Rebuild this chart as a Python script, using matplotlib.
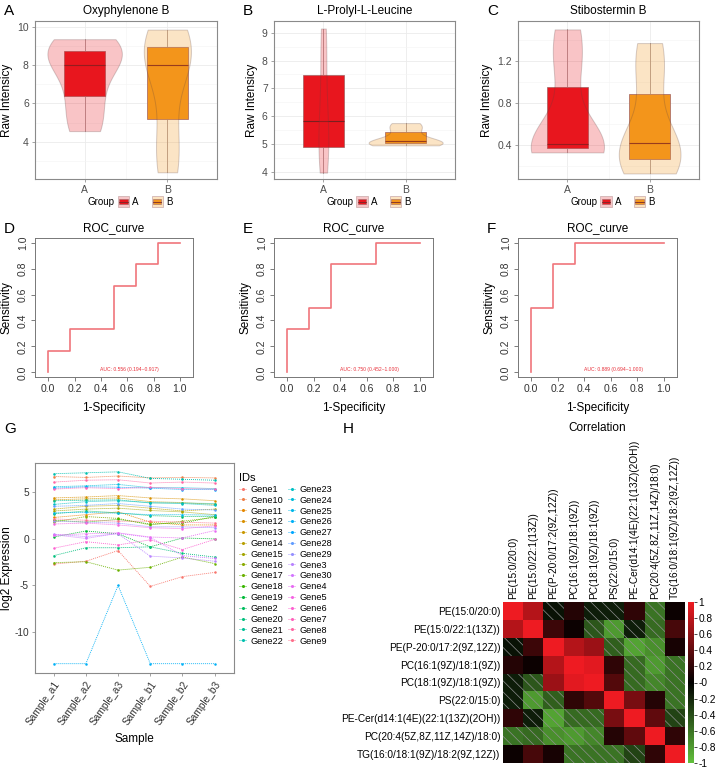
import numpy as np
import matplotlib
matplotlib.use('Agg')
import matplotlib.pyplot as plt
from matplotlib.patches import Rectangle
from matplotlib.lines import Line2D
from matplotlib.legend_handler import HandlerBase
from matplotlib.colors import LinearSegmentedColormap
import matplotlib.ticker as mticker

plt.rcParams['font.family'] = ['Liberation Sans', 'DejaVu Sans']
plt.rcParams['axes.unicode_minus'] = False
plt.rcParams['hatch.linewidth'] = 0.5

# ------------------------------------------------------------------ data
groups = ['A', 'B']
metab_titles = ['Oxyphylenone B', 'L-Prolyl-L-Leucine', 'Stibostermin B']
oxy_A = [4.55, 6.0, 7.5, 8.5, 8.8, 9.35]
oxy_B = [2.4, 4.4, 7.6, 8.4, 9.13, 9.85]
pro_A = [3.97, 4.73, 5.4, 6.26, 7.89, 9.15]
pro_B = [4.95, 5.01, 5.05, 5.15, 5.51, 5.75]
sti_A = [0.33, 0.363, 0.39, 0.43, 1.12, 1.50]
sti_B = [0.13, 0.233, 0.38, 0.46, 1.03, 1.37]

roc_fpr_D = [0, 0, 1/6, 1/6, 3/6, 3/6, 4/6, 4/6, 5/6, 5/6, 1]
roc_tpr_D = [0, 1/6, 1/6, 2/6, 2/6, 4/6, 4/6, 5/6, 5/6, 1, 1]
roc_fpr_E = [0, 0, 1/6, 1/6, 2/6, 2/6, 4/6, 4/6, 1]
roc_tpr_E = [0, 2/6, 2/6, 3/6, 3/6, 5/6, 5/6, 1, 1]
roc_fpr_F = [0, 0, 1/6, 1/6, 2/6, 2/6, 1]
roc_tpr_F = [0, 3/6, 3/6, 5/6, 5/6, 1, 1]
auc_labels = ['AUC: 0.556 (0.194~0.917)', 'AUC: 0.750 (0.452~1.000)', 'AUC: 0.889 (0.694~1.000)']

samples = ['Sample_a1', 'Sample_a2', 'Sample_a3', 'Sample_b1', 'Sample_b2', 'Sample_b3']
gene_ids = ['Gene1', 'Gene10', 'Gene11', 'Gene12', 'Gene13', 'Gene14', 'Gene15', 'Gene16',
            'Gene17', 'Gene18', 'Gene19', 'Gene2', 'Gene20', 'Gene21', 'Gene22', 'Gene23',
            'Gene24', 'Gene25', 'Gene26', 'Gene27', 'Gene28', 'Gene29', 'Gene3', 'Gene30',
            'Gene4', 'Gene5', 'Gene6', 'Gene7', 'Gene8', 'Gene9']
expr_a1 = [-2.7, 6.7, 2.3, 4.4, 4.2, 3.2, 3.0, 1.8, -2.55, 2.0, 0.2, 2.7, -1.8, 4.1, 7.0,
           3.7, 5.6, 2.8, -13.4, 5.45, 3.5, 1.9, 0.5, 0.45, 0.4, 1.6, -1.0, 5.35, 6.1, 2.15]
expr_a2 = [-2.4, 6.6, 2.6, 4.5, 4.3, 3.5, 3.2, 2.4, -2.45, 1.8, 0.85, 3.0, -0.95, 4.15, 7.1,
           4.0, 5.7, 2.85, -13.4, 5.6, 3.6, 1.8, 0.25, 0.05, 0.55, 1.7, -0.3, 5.5, 6.3, 2.0]
expr_a3 = [-1.25, 6.75, 2.9, 4.65, 4.4, 3.6, 3.3, 2.2, -3.35, 2.1, 0.55, 2.8, -0.95, 4.2, 7.2,
           4.1, 5.85, 2.75, -5.0, 5.55, 3.8, 1.7, 0.55, 0.6, 0.65, 1.5, -0.65, 5.4, 6.35, 1.9]
expr_b1 = [-5.1, 6.55, 1.8, 4.4, 4.0, 3.3, 3.05, 1.5, -3.05, 1.6, -0.85, 2.5, -0.85, 3.85, 6.5,
           3.9, 5.5, 2.6, -13.4, 5.45, 3.5, 1.3, -1.85, 0.15, 0.2, 1.2, -0.1, 5.55, 6.0, 1.9]
expr_b2 = [-4.05, 6.6, 1.5, 4.3, 3.9, 3.0, 2.9, 1.9, -1.95, 1.7, 0.1, 2.4, -1.55, 3.85, 6.4,
           3.8, 5.5, 2.6, -13.4, 5.3, 3.2, 1.3, -2.05, -1.8, 0.1, 1.1, -1.15, 5.4, 6.1, 1.8]
expr_b3 = [-3.6, 6.55, 1.5, 4.1, 3.7, 3.2, 2.6, 2.3, -2.65, 2.4, 0.0, 2.4, -1.95, 3.8, 6.3,
           3.6, 5.4, 2.55, -13.4, 5.3, 3.1, 1.2, -2.4, -2.1, 0.9, 1.4, -0.05, 5.35, 6.0, 1.7]

lipids = ['PE(15:0/20:0)', 'PE(15:0/22:1(13Z))', 'PE(P-20:0/17:2(9Z,12Z))',
          'PC(16:1(9Z)/18:1(9Z))', 'PC(18:1(9Z)/18:1(9Z))', 'PS(22:0/15:0)',
          'PE-Cer(d14:1(4E)(22:1(13Z)(2OH))', 'PC(20:4(5Z,8Z,11Z,14Z)/18:0)',
          'TG(16:0/18:1(9Z)/18:2(9Z,12Z))']
corr_values = [
    [1.00, 0.75, -0.10, 0.15, -0.15, -0.15, 0.20, -0.60, 0.05],
    [0.75, 1.00, 0.25, 0.05, -0.45, -0.80, -0.15, -0.55, 0.30],
    [-0.10, 0.25, 1.00, 0.75, 0.65, -0.50, -0.85, -0.75, 0.10],
    [0.15, 0.05, 0.75, 1.00, 0.95, 0.20, -0.55, -0.80, -0.60],
    [-0.15, -0.45, 0.65, 0.95, 1.00, 0.35, -0.55, -0.70, -0.60],
    [-0.15, -0.80, -0.50, 0.20, 0.35, 1.00, 0.50, 0.15, -0.60],
    [0.20, -0.15, -0.85, -0.55, -0.55, 0.50, 1.00, 0.40, -0.35],
    [-0.60, -0.55, -0.75, -0.80, -0.70, 0.15, 0.40, 1.00, 0.20],
    [0.05, 0.30, 0.10, -0.60, -0.60, -0.60, -0.35, 0.20, 1.00],
]

# ------------------------------------------------------------------ helpers
W, H = 720, 771
fig = plt.figure(figsize=(W / 100, H / 100), dpi=100)


def px_axes(x0, y0, x1, y1):
    return fig.add_axes([x0 / W, 1 - y1 / H, (x1 - x0) / W, (y1 - y0) / H])


def fig_text(x, y, s, **kw):
    fig.text(x / W, 1 - y / H, s, **kw)


def hue_pal(n, c=100.0, l=65.0):
    hues = np.deg2rad(np.linspace(15, 375, n + 1)[:-1])
    Xn, Yn, Zn = 0.95047, 1.0, 1.08883
    un = 4 * Xn / (Xn + 15 * Yn + 3 * Zn)
    vn = 9 * Yn / (Xn + 15 * Yn + 3 * Zn)
    Y = Yn * ((l + 16) / 116) ** 3
    M = np.array([[3.2404542, -1.5371385, -0.4985314],
                  [-0.9692660, 1.8760108, 0.0415560],
                  [0.0556434, -0.2040259, 1.0572252]])
    out = []
    for h in hues:
        u, v = c * np.cos(h), c * np.sin(h)
        up = u / (13 * l) + un
        vp = v / (13 * l) + vn
        X = Y * 9 * up / (4 * vp)
        Z = Y * (12 - 3 * up - 20 * vp) / (4 * vp)
        rgb = M @ np.array([X, Y, Z])
        rgb = np.where(rgb <= 0.0031308, 12.92 * rgb, 1.055 * np.abs(rgb) ** (1 / 2.4) - 0.055)
        out.append(tuple(np.clip(rgb, 0, 1)))
    return out


class ViolinBoxHandler(HandlerBase):
    def __init__(self, face, pale):
        super().__init__()
        self.face, self.pale = face, pale

    def create_artists(self, legend, orig_handle, xdescent, ydescent, width, height, fontsize, trans):
        x0, y0 = -xdescent, -ydescent
        outer = Rectangle((x0, y0 - 1), width, height + 2, facecolor=self.pale,
                          edgecolor='#c9a9a9', lw=0.5, transform=trans)
        inner = Rectangle((x0 + width * 0.12, y0 + height * 0.2), width * 0.76, height * 0.6,
                          facecolor=self.face, edgecolor='#9a6a6a', lw=0.4, transform=trans)
        med = Line2D([x0 + width * 0.12, x0 + width * 0.88], [y0 + height / 2] * 2,
                     color='#7a2a2a', lw=0.6, transform=trans)
        return [outer, inner, med]


label_kw = dict(fontsize=11, va='center', ha='left')

# ------------------------------------------------------------------ A-C violin/box panels
box_colors = ['#E8161E', '#F3951B']
pale_colors = ['#F7C6C8', '#FCE3C0']
violin_sets = [(oxy_A, oxy_B), (pro_A, pro_B), (sti_A, sti_B)]
top_boxes = [(35, 21, 217, 179), (274, 21, 455, 179), (518, 21, 699, 179)]
ylims = [(2.05, 10.3), (3.74, 9.42), (0.077, 1.58)]
yticks = [[4, 6, 8, 10], [4, 5, 6, 7, 8, 9], [0.4, 0.8, 1.2]]
yminor = [[3, 5, 7, 9], [4.5, 5.5, 6.5, 7.5, 8.5], [0.2, 0.6, 1.0, 1.4]]
vwidths = [[0.9, 0.57], [0.12, 0.9], [0.89, 0.75]]
letters_top = [('A', 4), ('B', 243), ('C', 487)]

for i in range(3):
    ax = px_axes(*top_boxes[i])
    data = [np.array(d) for d in violin_sets[i]]
    ax.set_xlim(0.4, 2.6)
    ax.set_ylim(*ylims[i])
    ax.set_yticks(yticks[i])
    ax.set_yticks(yminor[i], minor=True)
    ax.set_xticks([1.5], minor=True)
    ax.grid(True, which='major', color='#EBEBEB', lw=0.6, zorder=0)
    ax.grid(True, which='minor', color='#F4F4F4', lw=0.4, zorder=0)
    ax.set_axisbelow(True)
    bp = ax.boxplot(data, positions=[1, 2], widths=0.5, whis=(0, 100), patch_artist=True,
                    showcaps=False, showfliers=False,
                    medianprops=dict(color='#7a1f1f', lw=0.8),
                    whiskerprops=dict(color='#9a8585', lw=0.5),
                    boxprops=dict(lw=0.5), zorder=2)
    for patch, col in zip(bp['boxes'], box_colors):
        patch.set_facecolor(col)
        patch.set_edgecolor('#a06060')
    vp = ax.violinplot(data, positions=[1, 2], widths=vwidths[i], showextrema=False,
                       bw_method=0.55)
    for body, col in zip(vp['bodies'], box_colors):
        body.set_facecolor(col)
        body.set_edgecolor('#5a4040')
        body.set_linewidth(0.7)
        body.set_alpha(0.25)
        body.set_zorder(3)
    ax.set_xticks([1, 2])
    ax.set_xticklabels(groups)
    if i == 2:
        ax.yaxis.set_major_formatter(mticker.FormatStrFormatter('%.1f'))
    ax.tick_params(which='major', length=2.5, width=0.5, colors='#7f7f7f', labelsize=7.5,
                   labelcolor='#4d4d4d', pad=2)
    ax.tick_params(which='minor', length=0)
    for s in ax.spines.values():
        s.set_color('#8a8a8a')
        s.set_linewidth(0.8)
    ax.set_title(metab_titles[i], fontsize=8.5, pad=5)
    ax.set_ylabel('Raw Intensicy', fontsize=8.5, labelpad=3)
    # legend
    ax.text(0.29, -0.146, 'Group', transform=ax.transAxes, fontsize=7, va='center', ha='left')
    hA = Rectangle((0, 0), 1, 1)
    hB = Rectangle((0, 0), 1, 1)
    ax.legend([hA, hB], groups, loc='center left', bbox_to_anchor=(0.455, -0.146), ncol=2,
              frameon=False, fontsize=7, handlelength=1.15, handleheight=1.0,
              handletextpad=0.35, columnspacing=1.3, borderpad=0, borderaxespad=0,
              handler_map={hA: ViolinBoxHandler(box_colors[0], pale_colors[0]),
                           hB: ViolinBoxHandler(box_colors[1], pale_colors[1])})
    fig_text(letters_top[i][1], 11, letters_top[i][0], **label_kw)

# ------------------------------------------------------------------ D-F ROC
roc_sets = [(roc_fpr_D, roc_tpr_D), (roc_fpr_E, roc_tpr_E), (roc_fpr_F, roc_tpr_F)]
roc_boxes = [(35, 238, 193, 377), (274, 238, 433, 377), (518, 238, 677, 377)]
letters_roc = [('D', 4), ('E', 243), ('F', 487)]
for i in range(3):
    ax = px_axes(*roc_boxes[i])
    fpr, tpr = roc_sets[i]
    ax.plot(fpr, tpr, color='#F0767C', lw=1.2)
    ax.set_xlim(-0.1, 1.1)
    ax.set_ylim(-0.035, 1.035)
    ticks = [0.0, 0.2, 0.4, 0.6, 0.8, 1.0]
    ax.set_xticks(ticks)
    ax.set_yticks(ticks)
    ax.xaxis.set_major_formatter(mticker.FormatStrFormatter('%.1f'))
    ax.yaxis.set_major_formatter(mticker.FormatStrFormatter('%.1f'))
    ax.tick_params(length=3, width=0.6, colors='#666666', labelcolor='#333333', labelsize=7.5, pad=2)
    for lab in ax.get_yticklabels():
        lab.set_rotation(90)
        lab.set_va('center')
    for s in ax.spines.values():
        s.set_color('#777777')
        s.set_linewidth(0.7)
    ax.set_title('ROC_curve', fontsize=8.5, pad=5)
    ax.set_xlabel('1-Specificity', fontsize=8.5, labelpad=6)
    ax.set_ylabel('Sensitivity', fontsize=8.5, labelpad=4)
    ax.text(0.62, 0.0, auc_labels[i], color='#E8303A', fontsize=3.6, ha='center', va='bottom')
    fig_text(letters_roc[i][1], 229, letters_roc[i][0], **label_kw)

# ------------------------------------------------------------------ G line plot
axg = px_axes(35, 463, 234, 673)
gene_colors = hue_pal(len(gene_ids))
x = np.arange(1, len(samples) + 1)
sample_cols = [expr_a1, expr_a2, expr_a3, expr_b1, expr_b2, expr_b3]
handles = []
for k, gid in enumerate(gene_ids):
    vals = [col[k] for col in sample_cols]
    axg.plot(x, vals, color=gene_colors[k], lw=0.6, ls=(0, (1.2, 1.2)),
             marker='o', ms=1.8, mew=0)
    handles.append(Line2D([0], [0], color=gene_colors[k], lw=0.6, ls=(0, (1.2, 1.2)),
                          marker='o', ms=2.2, mew=0))
axg.set_xlim(0.42, 6.6)
axg.set_ylim(-14.4, 8.15)
axg.set_yticks([-10, -5, 0, 5])
axg.set_xticks(x)
axg.set_xticklabels(samples, rotation=55, ha='right', va='top', rotation_mode='anchor')
axg.tick_params(length=2.5, width=0.5, colors='#7f7f7f', labelcolor='#333333', labelsize=7.3, pad=2)
for s in axg.spines.values():
    s.set_color('#8a8a8a')
    s.set_linewidth(0.8)
axg.set_ylabel('log2 Expression', fontsize=8.5, labelpad=1)
axg.set_xlabel('Sample', fontsize=8.5, labelpad=4)
fig.legend(handles, gene_ids, loc='upper left', bbox_to_anchor=(239 / W, 1 - 473 / H),
           ncol=2, frameon=False, fontsize=6.6, title='IDs', title_fontsize=8,
           alignment='left', handlelength=0.9, handletextpad=0.35, columnspacing=0.5,
           labelspacing=0.2, borderpad=0, borderaxespad=0)
fig_text(4, 429, 'G', **label_kw)

# ------------------------------------------------------------------ H correlation heatmap
axh = px_axes(503, 602, 685, 763)
cax = px_axes(688, 602, 694, 763)
cmap = LinearSegmentedColormap.from_list('gkr', ['#62C03C', '#000000', '#EE1B22'])
corr = np.array(corr_values)
im = axh.imshow(corr, cmap=cmap, vmin=-1, vmax=1, aspect='auto', interpolation='nearest')
n = len(lipids)
for r in range(n):
    for c in range(n):
        if corr[r, c] < 0:
            axh.add_patch(Rectangle((c - 0.5, r - 0.5), 1, 1, fill=False, lw=0.001,
                                    hatch='\\\\\\', edgecolor='#8f8f8f'))
axh.set_xticks(range(n))
axh.set_yticks(range(n))
axh.set_xticklabels(lipids, rotation=90, fontsize=7.3)
axh.set_yticklabels(lipids, fontsize=7.3)
axh.xaxis.tick_top()
axh.tick_params(length=0, pad=2)
for s in axh.spines.values():
    s.set_visible(False)
cb = fig.colorbar(im, cax=cax, ticks=np.round(np.arange(-1, 1.01, 0.2), 1))
cb.ax.yaxis.set_major_formatter(mticker.FuncFormatter(lambda v, p: f'{round(v, 1):g}'))
cb.outline.set_visible(False)
cb.ax.tick_params(length=2, width=0.5, labelsize=7.3, pad=1)
fig_text(597, 428, 'Correlation', fontsize=8.5, ha='center', va='center')
fig_text(343, 429, 'H', **label_kw)

fig.savefig('out.png', dpi=100)
